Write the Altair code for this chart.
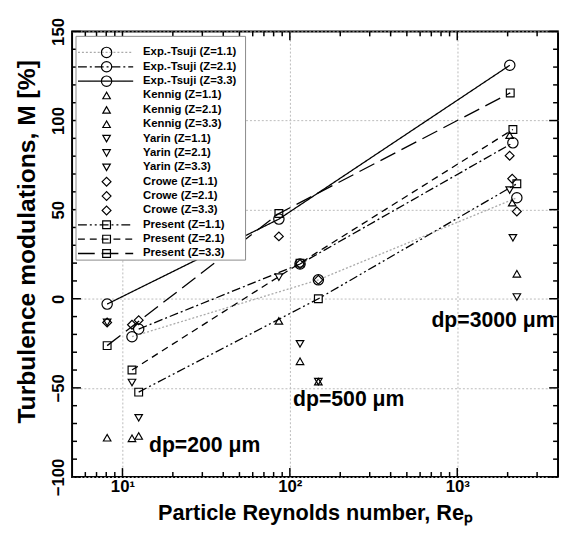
import altair as alt
import pandas as pd

FONT = "Liberation Sans"

# ---------------- data ----------------
Z_VALUES = ["1.1", "2.1", "3.3"]

TSUJI_RE = [[11.4, 148, 2270], [12.5, 115, 2150], [8.1, 86, 2060]]
TSUJI_M = [[-21.3, 10.6, 56.7], [-17.0, 19.5, 87.5], [-3.0, 44.7, 131.0]]

KENNIG_RE = [[12.5, 148, 2270], [11.4, 115, 2130], [8.1, 86, 2056]]
KENNIG_M = [[-77.0, -46.5, 14.0], [-78.3, -35.1, 53.9], [-78.0, -12.4, 91.8]]

YARIN_RE = [[12.5, 148, 2270], [11.4, 115, 2150], [8.1, 86, 2056]]
YARIN_M = [[-66.8, -46.5, 1.0], [-47.0, -25.3, 34.2], [-13.3, 12.1, 61.0]]

CROWE_RE = [[12.5, 148, 2270], [11.4, 115, 2130], [8.1, 86, 2056]]
CROWE_M = [[-12.0, 10.6, 49.0], [-14.6, 19.5, 67.4], [-13.3, 35.0, 80.3]]

PRESENT_RE = [[12.5, 148, 2270], [11.4, 115, 2150], [8.1, 86, 2073]]
PRESENT_M = [[-52.4, 0.0, 64.5], [-40.0, 20.0, 95.0], [-26.3, 47.8, 115.5]]

AUTHORS = ["Exp.-Tsuji", "Kennig", "Yarin", "Crowe", "Present"]
AUTHOR_RE = [TSUJI_RE, KENNIG_RE, YARIN_RE, CROWE_RE, PRESENT_RE]
AUTHOR_M = [TSUJI_M, KENNIG_M, YARIN_M, CROWE_M, PRESENT_M]
AUTHOR_SHAPE = ["circle", "triangle-up", "triangle-down", "diamond", "square"]
AUTHOR_SIZE = [110, 58, 58, 80, 62]

LINE_SERIES = ["Exp.-Tsuji (Z=1.1)", "Exp.-Tsuji (Z=2.1)", "Exp.-Tsuji (Z=3.3)",
               "Present (Z=1.1)", "Present (Z=2.1)", "Present (Z=3.3)"]
LINE_DASH = [[2, 2], [9, 3, 2, 3], [1, 0], [9, 3, 2, 3, 2, 3], [7, 5], [17, 7]]
LINE_COLOR = ["#aaaaaa", "black", "black", "black", "black", "black"]

ANNOT_TEXT = ["dp=200 μm", "dp=500 μm", "dp=3000 μm"]
ANNOT_RE = [14.4, 104.5, 701]
ANNOT_M = [-86.2, -60.2, -15.7]

X_TICKS = [10, 100, 1000]
X_TICK_LABELS = ["10¹", "10²", "10³"]
X_MINOR = [6, 7, 8, 9, 20, 30, 40, 50, 60, 70, 80, 90,
           200, 300, 400, 500, 600, 700, 800, 900, 2000, 3000]
Y_TICKS = [-100, -50, 0, 50, 100, 150]
Y_MINOR = [v for v in range(-90, 150, 10) if v % 50 != 0]

W, H = 493, 452

# ---------------- tables ----------------
rows = []
legend_rows = []
for a, name in enumerate(AUTHORS):
    for k, z in enumerate(Z_VALUES):
        label = f"{name} (Z={z})"
        legend_rows.append({"row": len(legend_rows), "series": label,
                            "shape": AUTHOR_SHAPE[a], "size": AUTHOR_SIZE[a]})
        for re_v, m_v in zip(AUTHOR_RE[a][k], AUTHOR_M[a][k]):
            rows.append({"series": label, "re": re_v, "m": m_v,
                         "shape": AUTHOR_SHAPE[a], "size": AUTHOR_SIZE[a]})
df = pd.DataFrame(rows)
df_lines = df[df["series"].isin(LINE_SERIES)]
df_leg = pd.DataFrame(legend_rows)
df_leg_lines = df_leg[df_leg["series"].isin(LINE_SERIES)]
df_annot = pd.DataFrame({"re": ANNOT_RE, "m": ANNOT_M, "label": ANNOT_TEXT})

label_expr = " : ".join(
    [f"datum.value == {v} ? '{t}'" for v, t in zip(X_TICKS[:-1], X_TICK_LABELS[:-1])]
) + f" : '{X_TICK_LABELS[-1]}'"

X = alt.X("re:Q",
          scale=alt.Scale(type="log", domain=[5, 4000], nice=False),
          axis=alt.Axis(values=X_TICKS, labelExpr=label_expr, grid=True,
                        gridColor="#bbbbbb", gridDash=[2, 2], gridWidth=1,
                        ticks=False, domain=False, labelFlush=False, labelOverlap=False,
                        labelFont=FONT, labelFontSize=17, labelFontWeight="bold",
                        labelColor="black", labelPadding=2, labelBaseline="top",
                        title="Particle Reynolds number, Reₚ",
                        titleFont=FONT, titleFontSize=22, titleFontWeight="bold",
                        titleColor="black", titleBaseline="top", titleY=26))
Y = alt.Y("m:Q",
          scale=alt.Scale(domain=[-100, 150], nice=False),
          axis=alt.Axis(values=Y_TICKS, grid=True, gridColor="#bbbbbb",
                        gridDash=[2, 2], gridWidth=1, ticks=False, domain=False,
                        labelFlush=False, labelOverlap=False, labelAngle=270,
                        labelFont=FONT, labelFontSize=17, labelFontWeight="bold",
                        labelColor="black", labelPadding=5,
                        title="Turbulence modulations, M [%]",
                        titleFont=FONT, titleFontSize=25, titleFontWeight="bold",
                        titleColor="black", titleBaseline="bottom",
                        titleX=-33, titleY=213, titleAngle=270))

dash_scale = alt.Scale(domain=LINE_SERIES, range=LINE_DASH)
color_scale = alt.Scale(domain=LINE_SERIES, range=LINE_COLOR)

lines = alt.Chart(df_lines).mark_line(strokeWidth=1.3).encode(
    x=X, y=Y, detail="series:N",
    strokeDash=alt.StrokeDash("series:N", scale=dash_scale, legend=None),
    color=alt.Color("series:N", scale=color_scale, legend=None),
    order="re:Q",
)

points = alt.Chart(df).mark_point(filled=False, color="black", strokeWidth=1.2,
                                  opacity=1).encode(
    x=X, y=Y,
    shape=alt.Shape("shape:N", scale=None),
    size=alt.Size("size:Q", scale=None),
)

annot = alt.Chart(df_annot).mark_text(align="left", baseline="alphabetic", font=FONT,
                                      fontSize=21.5, fontWeight="bold",
                                      color="black").encode(x=X, y=Y, text="label:N")


def ytick(values, length, right=False):
    d = pd.DataFrame({"m": values})
    x0, x1 = (W - length, W) if right else (0, length)
    return alt.Chart(d).mark_rule(color="black", strokeWidth=1.5).encode(
        y=Y, x=alt.value(x0), x2=alt.value(x1))


def xtick(values, length, top=False):
    d = pd.DataFrame({"re": values})
    y0, y1 = (0, length) if top else (H - length, H)
    return alt.Chart(d).mark_rule(color="black", strokeWidth=1.5).encode(
        x=X, y=alt.value(y0), y2=alt.value(y1))


ticks = [ytick(Y_TICKS, 9), ytick(Y_MINOR, 5), ytick(Y_TICKS, 9, True), ytick(Y_MINOR, 5, True),
         xtick(X_TICKS, 9), xtick(X_MINOR, 5), xtick(X_TICKS, 9, True), xtick(X_MINOR, 5, True)]

main = alt.layer(lines, *ticks, points, annot)

# ---------------- legend ----------------
LY = alt.Y("row:Q", scale=alt.Scale(domain=[0, 14], range=[21.3, 225.3]), axis=None)

leg_box = alt.Chart(pd.DataFrame({"a": [0]})).mark_rect(
    fill="white", stroke="#8a8a8a", strokeWidth=1).encode(
    x=alt.value(4), x2=alt.value(176), y=alt.value(5), y2=alt.value(232))

leg_lines = alt.Chart(df_leg_lines).mark_rule(strokeWidth=1.3).encode(
    y=LY, x=alt.value(6), x2=alt.value(62),
    strokeDash=alt.StrokeDash("series:N", scale=dash_scale, legend=None),
    color=alt.Color("series:N", scale=color_scale, legend=None),
)

leg_marks = alt.Chart(df_leg).mark_point(filled=False, color="black", strokeWidth=1.2,
                                         opacity=1).encode(
    y=LY, x=alt.value(35),
    shape=alt.Shape("shape:N", scale=None),
    size=alt.Size("size:Q", scale=None),
)

leg_text = alt.Chart(df_leg).mark_text(align="left", baseline="middle", font=FONT,
                                       fontSize=11.5, fontWeight="bold",
                                       color="black").encode(
    y=LY, x=alt.value(72), text="series:N")

legend = alt.layer(leg_box, leg_lines, leg_marks, leg_text)

chart = alt.layer(main, legend).resolve_scale(y="independent").properties(
    width=W, height=H,
    padding={"left": 65, "top": 20, "right": 2, "bottom": 48},
    autosize=alt.AutoSizeParams(type="none"),
    background="white",
).configure_view(stroke="black", strokeWidth=2)

chart.save("out.html", embed_options={"renderer": "svg", "actions": False})
